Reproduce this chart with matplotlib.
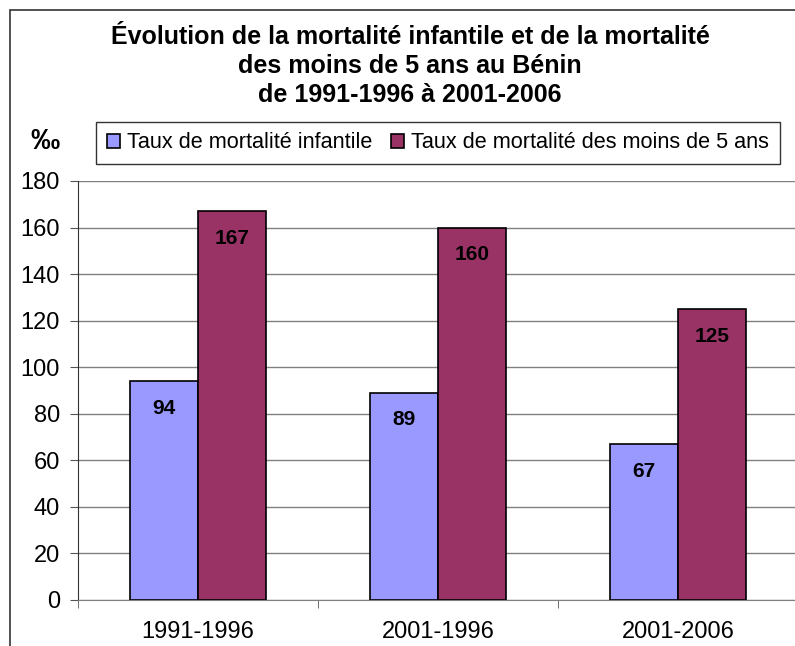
import numpy as np
import matplotlib.pyplot as plt
from matplotlib.patches import Rectangle

plt.rcParams['font.family'] = ['Liberation Sans', 'DejaVu Sans']

periods = ['1991-1996', '2001-1996', '2001-2006']
infantile = [94, 89, 67]
moins5 = [167, 160, 125]
series_names = ['Taux de mortalité infantile', 'Taux de mortalité des moins de 5 ans']
colors = ['#9999FF', '#993366']

fig = plt.figure(figsize=(7.95, 6.46), dpi=100)
ax = fig.add_axes([78 / 795, 1 - 600 / 646, 720 / 795, 419 / 646])

x = np.arange(len(periods))
w = 0.285
b1 = ax.bar(x - w / 2, infantile, w, color=colors[0], edgecolor='black', linewidth=1.2,
            label=series_names[0], zorder=3)
b2 = ax.bar(x + w / 2, moins5, w, color=colors[1], edgecolor='black', linewidth=1.2,
            label=series_names[1], zorder=3)

for bars in (b1, b2):
    for r in bars:
        h = r.get_height()
        ax.annotate(str(int(h)), (r.get_x() + r.get_width() / 2, h), xytext=(0, -19.5),
                    textcoords='offset points', ha='center', va='center',
                    fontsize=15, fontweight='bold', zorder=4)

ax.set_ylim(0, 180)
ax.set_yticks(range(0, 181, 20))
ax.set_xlim(-0.5, 2.5)
ax.set_xticks(x)
ax.set_xticklabels(periods, fontsize=17)
ax.set_xticks([-0.5, 0.5, 1.5, 2.5], minor=True)
ax.tick_params(axis='x', which='major', length=0, pad=15)
ax.tick_params(axis='x', which='minor', length=6, color='#555555')
ax.tick_params(axis='y', length=6, labelsize=17, color='#555555', pad=7)
ax.yaxis.grid(True, color='#808080', linewidth=1, zorder=0)
ax.spines['top'].set_visible(False)
ax.spines['right'].set_visible(False)
ax.spines['left'].set_color('#333333')
ax.spines['bottom'].set_color('#808080')

fig.text(410 / 795, 1 - 66 / 646,
         'Évolution de la mortalité infantile et de la mortalité\n'
         'des moins de 5 ans au Bénin\nde 1991-1996 à 2001-2006',
         ha='center', va='center', fontsize=18, fontweight='bold', linespacing=1.27)
fig.text(45 / 795, 1 - 141 / 646, '‰', ha='center', va='center', fontsize=21, fontweight='bold')

leg = fig.legend(loc='center', bbox_to_anchor=(438 / 795, 1 - 143 / 646), ncol=2,
                 fontsize=15.6, frameon=True, fancybox=False, edgecolor='black',
                 handlelength=0.6, handleheight=0.6, handletextpad=0.3, columnspacing=0.9,
                 borderpad=0.5, borderaxespad=0)
leg.get_frame().set_linewidth(1)
for h in leg.legend_handles:
    h.set_linewidth(1.2)

fig.patches.append(Rectangle((10 / 795, -0.05), 1.0, 1 - 10 / 646 + 0.05,
                             transform=fig.transFigure, fill=False,
                             edgecolor='#333333', linewidth=1.2))

fig.savefig('out.png', dpi=100)
